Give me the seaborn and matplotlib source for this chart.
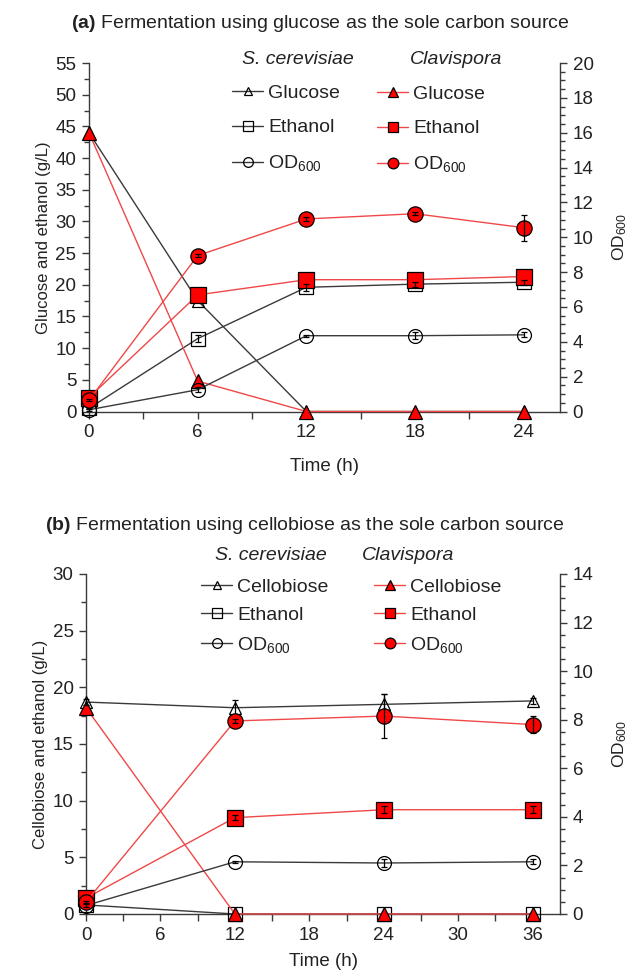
import numpy as np
import pandas as pd
import matplotlib
matplotlib.use("Agg")
import matplotlib.pyplot as plt
import seaborn as sns

# (a) glucose
time_a = [0, 6, 12, 18, 24]
sc_glucose_a = [44.0, 17.5, 0.0, 0.0, 0.0]
sc_ethanol_a = [0.5, 11.5, 19.6, 20.1, 20.4]
sc_od_a = [0.1, 1.25, 4.35, 4.35, 4.4]
sc_ethanol_a_err = [0.1, 0.6, 0.6, 0.4, 0.4]
sc_od_a_err = [0.05, 0.15, 0.05, 0.2, 0.15]
cl_glucose_a = [44.0, 4.8, 0.0, 0.0, 0.0]
cl_ethanol_a = [2.2, 18.4, 20.8, 20.8, 21.3]
cl_od_a = [0.65, 8.95, 11.05, 11.35, 10.55]
cl_od_a_err = [0.05, 0.1, 0.1, 0.1, 0.75]

# (b) cellobiose
time_b = [0, 12, 24, 36]
sc_cello_b = [18.7, 18.2, 18.5, 18.8]
sc_cello_b_err = [0.3, 0.7, 0.9, 0.3]
sc_ethanol_b = [0.8, 0.0, 0.0, 0.0]
sc_od_b = [0.35, 2.15, 2.1, 2.15]
sc_od_b_err = [0.05, 0.05, 0.15, 0.1]
cl_cello_b = [18.2, 0.0, 0.0, 0.0]
cl_ethanol_b = [1.4, 8.5, 9.2, 9.2]
cl_ethanol_b_err = [0.1, 0.2, 0.3, 0.3]
cl_od_b = [0.5, 7.95, 8.15, 7.8]
cl_od_b_err = [0.05, 0.1, 0.9, 0.35]

sns.set_style("ticks")
plt.rcParams["font.family"] = ["Liberation Sans", "DejaVu Sans"]
plt.rcParams["mathtext.fontset"] = "custom"
plt.rcParams["mathtext.rm"] = "Liberation Sans"
plt.rcParams["mathtext.bf"] = "Liberation Sans:bold"
plt.rcParams["mathtext.default"] = "regular"

W, H = 629, 975
BLACK = "#3a3a3a"
TXT = "#222222"
RED_LINE = "#f04848"
RED_FILL = "#ff0000"
OD = r"OD$_{600}$"
FS_TXT = 14
FS_TICK = 13.5


def draw_series(ax, x, y, marker, ms, red, err=None):
    sns.lineplot(
        x=x,
        y=y,
        ax=ax,
        estimator=None,
        sort=False,
        color=RED_LINE if red else BLACK,
        linewidth=1.0,
        marker=marker,
        markersize=ms,
        markerfacecolor=RED_FILL if red else "none",
        markeredgecolor="black",
        markeredgewidth=0.9,
        clip_on=False,
        zorder=4 if red else 3,
    )
    line = ax.lines[-1]
    if err is not None:
        ax.errorbar(
            x, y, yerr=err,
            fmt="none",
            ecolor="black",
            elinewidth=0.9,
            capsize=2.5,
            capthick=0.9,
            zorder=5,
            clip_on=False,
        )
    return line


def style_axes(ax, ax2, xlim, xticks, xminor, ylim, ymajor, yminor, y2lim, y2major, y2minor):
    ax.set_xlim(*xlim)
    ax.set_ylim(*ylim)
    ax2.set_ylim(*y2lim)
    ax.set_xticks(xticks)
    ax.set_xticks(xminor, minor=True)
    ax.set_yticks(np.arange(ylim[0], ylim[1] + 0.01, ymajor))
    ax.set_yticks(np.arange(ylim[0], ylim[1] + 0.01, yminor), minor=True)
    ax2.set_yticks(np.arange(y2lim[0], y2lim[1] + 0.01, y2major))
    ax2.set_yticks(np.arange(y2lim[0], y2lim[1] + 0.01, y2minor), minor=True)
    for a in (ax, ax2):
        a.spines["top"].set_visible(False)
        for s in a.spines.values():
            s.set_color(BLACK)
            s.set_linewidth(1.0)
        a.tick_params(which="major", length=5, width=1.0, color=BLACK,
                      labelsize=FS_TICK, labelcolor=TXT, direction="out", pad=4)
        a.tick_params(which="minor", length=3.5, width=1.0, color=BLACK, direction="out")
    ax.tick_params(axis="x", which="minor", length=5)
    ax.spines["right"].set_visible(False)
    ax2.spines["left"].set_visible(False)
    ax2.spines["bottom"].set_visible(False)


def add_legend(fig, handles, labels, x_px, y_px, rowgap):
    leg = fig.legend(
        handles, labels,
        loc="upper left",
        bbox_to_anchor=(x_px / W, 1 - y_px / H),
        bbox_transform=fig.transFigure,
        frameon=False,
        fontsize=FS_TXT,
        borderpad=0,
        borderaxespad=0,
        handlelength=1.6,
        handletextpad=0.25,
        labelspacing=rowgap,
        markerscale=0.7,
    )
    for t in leg.get_texts():
        t.set_color(TXT)
    return leg


def header(fig, x_px, y_px, s, **kw):
    fig.text(x_px / W, 1 - y_px / H, s, fontsize=FS_TXT, color=TXT,
             va="center", ha="left", **kw)


fig = plt.figure(figsize=(W / 100, H / 100), dpi=100)

# ---------------- panel (a)
ax = fig.add_axes([89 / W, 1 - 411.5 / H, 471 / W, 348.5 / H])
ax2 = ax.twinx()
h1 = draw_series(ax, time_a, sc_glucose_a, "^", 9, False)
h2 = draw_series(ax, time_a, sc_ethanol_a, "s", 10, False, sc_ethanol_a_err)
h3 = draw_series(ax2, time_a, sc_od_a, "o", 10, False, sc_od_a_err)
h4 = draw_series(ax, time_a, cl_glucose_a, "^", 10, True)
h5 = draw_series(ax, time_a, cl_ethanol_a, "s", 11, True)
h6 = draw_series(ax2, time_a, cl_od_a, "o", 11, True, cl_od_a_err)
style_axes(ax, ax2, (0, 26), [0, 6, 12, 18, 24], np.arange(0, 26, 3),
           (0, 55), 5, 2.5, (0, 20), 2, 0.5)
ax.set_xlabel("Time (h)", fontsize=13.5, color=TXT, labelpad=12)
ax.set_ylabel("Glucose and ethanol (g/L)", fontsize=12, color=TXT, labelpad=3)
ax2.set_ylabel(OD, fontsize=12.5, color=TXT, labelpad=12)

add_legend(fig, [h1, h2, h3], ["Glucose", "Ethanol", OD], 232, 84, 0.88)
add_legend(fig, [h4, h5, h6], ["Glucose", "Ethanol", OD], 377, 85, 0.88)
header(fig, 242, 60, "S. cerevisiae", style="italic")
header(fig, 410, 60, "Clavispora", style="italic")
header(fig, 71, 24,
       r"$\mathbf{(a)}$ Fermentation using glucose as the sole carbon source")

# ---------------- panel (b)
bx = fig.add_axes([86 / W, 1 - 914 / H, 474 / W, 340 / H])
bx2 = bx.twinx()
g1 = draw_series(bx, time_b, sc_cello_b, "^", 9, False, sc_cello_b_err)
g2 = draw_series(bx, time_b, sc_ethanol_b, "s", 10, False)
g3 = draw_series(bx2, time_b, sc_od_b, "o", 10, False, sc_od_b_err)
g4 = draw_series(bx, time_b, cl_cello_b, "^", 10, True)
g5 = draw_series(bx, time_b, cl_ethanol_b, "s", 11, True, cl_ethanol_b_err)
g6 = draw_series(bx2, time_b, cl_od_b, "o", 11, True, cl_od_b_err)
style_axes(bx, bx2, (0, 38.2), np.arange(0, 37, 6), np.arange(0, 38, 3),
           (0, 30), 5, 2.5, (0, 14), 2, 0.5)
bx.set_xlabel("Time (h)", fontsize=13.5, color=TXT, labelpad=7)
bx.set_ylabel("Cellobiose and ethanol (g/L)", fontsize=12, color=TXT, labelpad=3)
bx2.set_ylabel(OD, fontsize=12.5, color=TXT, labelpad=12)

add_legend(fig, [g1, g2, g3], ["Cellobiose", "Ethanol", OD], 201, 578, 0.55)
add_legend(fig, [g4, g5, g6], ["Cellobiose", "Ethanol", OD], 374, 578, 0.55)
header(fig, 215, 556, "S. cerevisiae", style="italic")
header(fig, 362, 556, "Clavispora", style="italic")
header(fig, 45, 525,
       r"$\mathbf{(b)}$ Fermentation using cellobiose as the sole carbon source")

fig.savefig("out.png", dpi=100)
